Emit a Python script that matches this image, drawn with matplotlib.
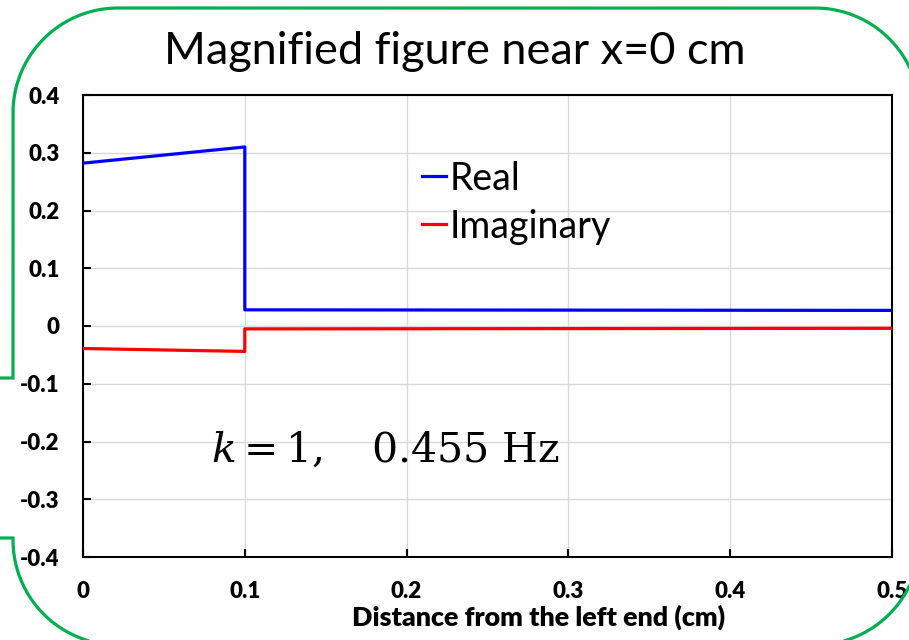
import matplotlib
matplotlib.use("Agg")
import matplotlib.pyplot as plt
import numpy as np
from matplotlib.path import Path
from matplotlib.patches import PathPatch

# Values
x_real = [0.0, 0.1, 0.1, 0.5]
y_real = [0.282, 0.310, 0.028, 0.027]
x_imag = [0.0, 0.1, 0.1, 0.5]
y_imag = [-0.039, -0.044, -0.005, -0.004]

x_ticks = [0, 0.1, 0.2, 0.3, 0.4, 0.5]
x_tick_labels = ["0", "0.1", "0.2", "0.3", "0.4", "0.5"]
y_ticks = [-0.4, -0.3, -0.2, -0.1, 0, 0.1, 0.2, 0.3, 0.4]
y_tick_labels = ["-0.4", "-0.3", "-0.2", "-0.1", "0", "0.1", "0.2", "0.3", "0.4"]

TITLE = "Magnified figure near x=0 cm"
XLABEL = "Distance from the left end (cm)"
NOTE = r"$k = 1,\quad 0.455\ \mathrm{Hz}$"

W, H = 909, 640
GREEN = "#00B050"

plt.rcParams["font.family"] = ["Lato", "DejaVu Sans"]
plt.rcParams["mathtext.fontset"] = "dejavuserif"

fig = plt.figure(figsize=(W / 100, H / 100), dpi=100)
ax = fig.add_axes([83 / W, 1 - 557 / H, (892 - 83) / W, (557 - 95) / H])

ax.grid(True, color="#d9d9d9", lw=1.0)
ax.set_axisbelow(True)
ax.plot(x_real, y_real, color="#0000ff", lw=2.3, label="Real", zorder=3)
ax.plot(x_imag, y_imag, color="#ff0000", lw=2.3, label="Imaginary", zorder=3)

ax.set_xlim(0, 0.5)
ax.set_ylim(-0.4, 0.4)
ax.set_xticks(x_ticks)
ax.set_xticklabels(x_tick_labels, fontweight="heavy", fontsize=16)
ax.set_yticks(y_ticks)
ax.set_yticklabels(y_tick_labels, fontweight="heavy", fontsize=16)
ax.tick_params(direction="in", length=6, width=1.5, color="black")
ax.tick_params(axis="x", pad=17)
ax.tick_params(axis="y", pad=17)
for s in ax.spines.values():
    s.set_linewidth(1.5)
    s.set_color("black")

# x label sits right of the axes centre in the reference
fig.text(539 / W, 1 - 626 / H, XLABEL, fontweight="heavy", fontsize=19.4,
         ha="center", va="baseline")

leg = ax.legend(loc="upper left", bbox_to_anchor=(0.419, 0.858), frameon=False,
                fontsize=27, handlelength=0.65, handletextpad=0.1,
                labelspacing=0.32, borderpad=0, borderaxespad=0)

ax.text(0.158, 0.205, NOTE, transform=ax.transAxes, fontsize=29.5,
        ha="left", va="baseline")

fig.text(455 / W, 1 - 52 / H, TITLE, ha="center", va="center", fontsize=32.5)

# Callout outline (rounded box with a tail out to the left)
L, R_, T, B, rad = 13, 920, 8, 645, 105
tail_top, tail_bot = 378, 538


def arc(cx, cy, a0, a1, n=40):
    t = np.radians(np.linspace(a0, a1, n))
    return list(zip(cx + rad * np.cos(t), cy + rad * np.sin(t)))


# pixel coords with y pointing down, converted to figure fraction below
outline = [(-5, tail_top), (L, tail_top), (L, T + rad)]
outline += arc(L + rad, T + rad, 180, 270)
outline += [(R_ - rad, T)]
outline += arc(R_ - rad, T + rad, 270, 360)
outline += [(R_, B - rad)]
outline += arc(R_ - rad, B - rad, 0, 90)
outline += [(L + rad, B)]
outline += arc(L + rad, B - rad, 90, 180)
outline += [(L, tail_bot), (-5, tail_bot)]
outline = [(x / W, 1 - y / H) for x, y in outline]
fig.patches.append(PathPatch(Path(outline), transform=fig.transFigure, fill=False,
                             edgecolor=GREEN, lw=2.3, zorder=10))

fig.savefig("out.png", dpi=100)
